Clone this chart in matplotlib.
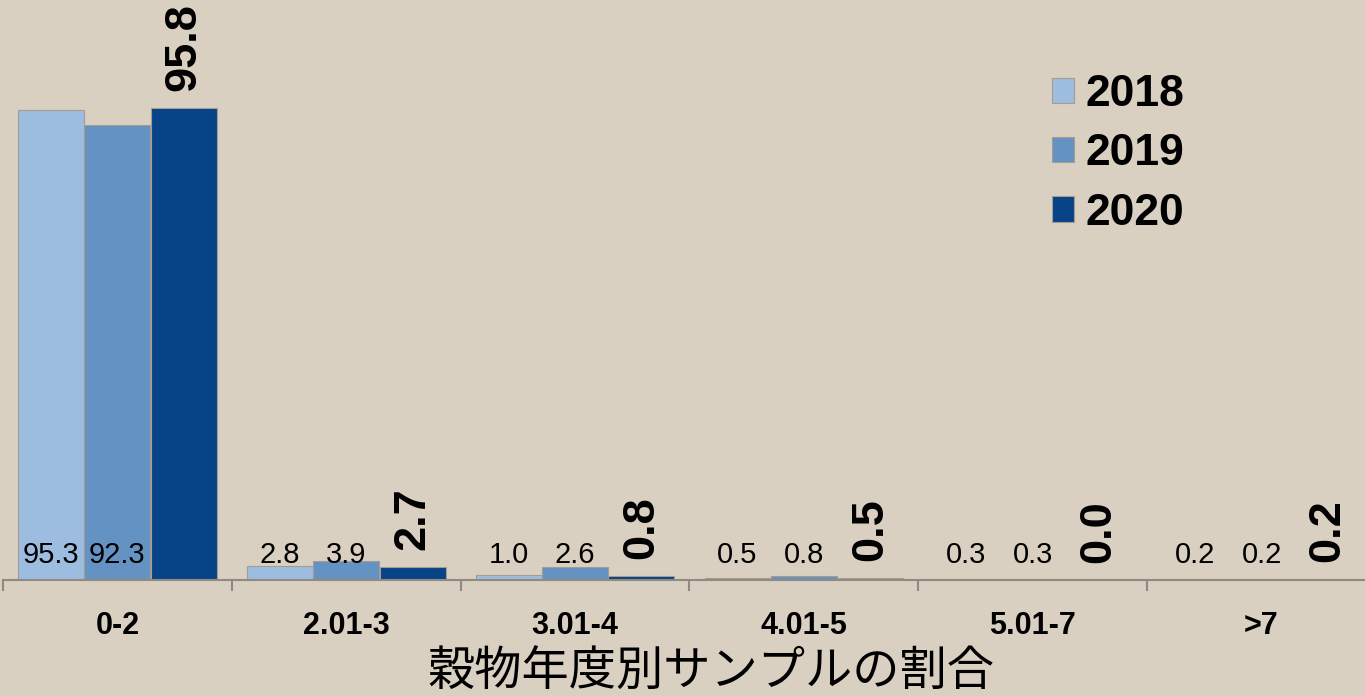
import matplotlib.pyplot as plt
import numpy as np

categories = ["0-2", "2.01-3", "3.01-4", "4.01-5", "5.01-7", ">7"]
years = ["2018", "2019", "2020"]
share_2018 = [95.3, 2.8, 1.0, 0.5, 0.3, 0.2]
share_2019 = [92.3, 3.9, 2.6, 0.8, 0.3, 0.2]
share_2020 = [95.8, 2.7, 0.8, 0.5, 0.0, 0.2]
xlabel = "穀物年度別サンプルの割合"

BG = "#D9D0C1"
COLORS = ["#9DBDE0", "#6492C2", "#064487"]
AXIS_GRAY = "#8F8A82"

plt.rcParams["font.family"] = ["Liberation Sans", "DejaVu Sans"]

fig = plt.figure(figsize=(13.65, 6.96), dpi=100, facecolor=BG)
ax = fig.add_axes([3 / 1365, 116 / 696, 1373 / 1365, 580 / 696])
ax.set_facecolor(BG)

x = np.arange(len(categories))
width = 0.288
offsets = [-0.29, 0.0, 0.29]
series = [share_2018, share_2019, share_2020]

for vals, off, color, year in zip(series, offsets, COLORS, years):
    ax.bar(x + off, vals, width, color=color, edgecolor="#A39C90",
           linewidth=0.8, label=year, zorder=2)
    for xi, v in zip(x + off, vals):
        if year == "2020":
            # latest year: bold, rotated, sitting above the bar
            ax.annotate(f"{v:.1f}", (xi, v), xytext=(0, 12), textcoords="offset points",
                        rotation=90, ha="center", va="bottom", fontsize=32.5,
                        fontweight="bold")
        else:
            ax.annotate(f"{v:.1f}", (xi, 0), xytext=(0, 18), textcoords="offset points",
                        ha="center", va="center", fontsize=21)

ax.set_xlim(-0.5, len(categories) - 0.5)
ax.set_ylim(0, 117.7)

for side in ["left", "right", "top"]:
    ax.spines[side].set_visible(False)
ax.spines["bottom"].set_color(AXIS_GRAY)
ax.spines["bottom"].set_linewidth(1.5)
ax.set_yticks([])

ax.set_xticks(x)
ax.set_xticklabels(categories, fontsize=22, fontweight="bold")
ax.tick_params(axis="x", which="major", length=0, pad=22.5)
ax.set_xticks(np.arange(len(categories) + 1) - 0.5, minor=True)
ax.tick_params(axis="x", which="minor", length=8, width=1.5, color=AXIS_GRAY)

ax.set_xlabel(xlabel, fontsize=34, family=["Noto Sans CJK JP", "DejaVu Sans"])
ax.xaxis.set_label_coords(0.5157, -0.159)
ax.xaxis.label.set_va("center")

ax.legend(loc="upper left", bbox_to_anchor=(1052 / 1365, 1 - 74 / 696),
          bbox_transform=fig.transFigure, frameon=False, borderpad=0,
          borderaxespad=0, prop={"size": 32, "weight": "bold"},
          handlelength=0.5, handleheight=0.5, handletextpad=0.25,
          labelspacing=0.415)

fig.savefig("out.png", dpi=100, facecolor=BG)
